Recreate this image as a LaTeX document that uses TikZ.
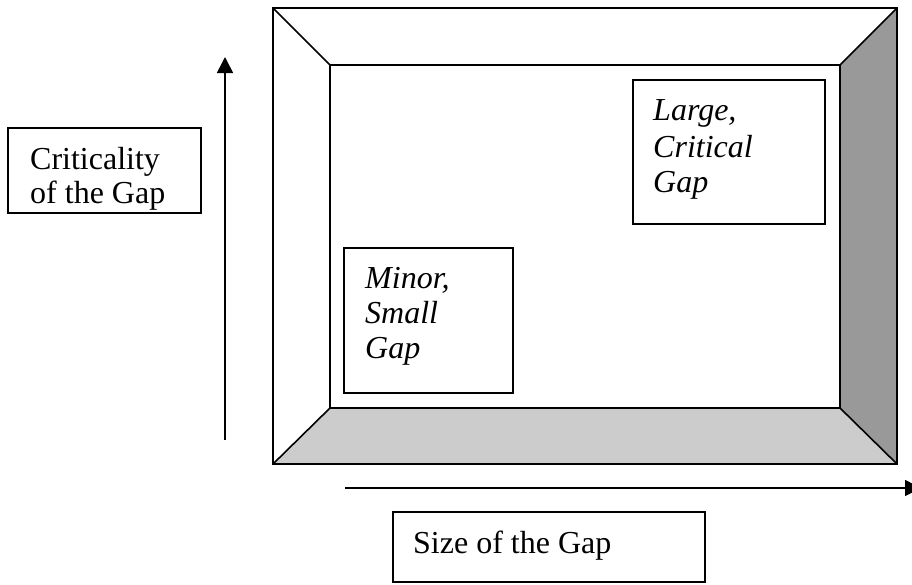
\documentclass[tikz,border=0pt]{standalone}
\usepackage{fontspec}
\setmainfont{Liberation Serif}
\usetikzlibrary{arrows.meta}
\definecolor{darkface}{HTML}{999999}
\definecolor{lightface}{HTML}{CCCCCC}
\tikzset{
  edge/.style={line width=1.6pt, line join=miter},
  label box/.style={draw, line width=1.4pt},
  txt/.style={anchor=base west, inner sep=0pt, font=\fontsize{32}{35}\selectfont},
  axis/.style={line width=1.6pt, -{Triangle[length=16pt, width=16pt]}}
}
\begin{document}
\begin{tikzpicture}[x=1pt, y=-1pt]
\useasboundingbox (0,0) rectangle (912,584);
% frame coordinates
\coordinate (o1) at (273,8);
\coordinate (o2) at (897,8);
\coordinate (o3) at (897,464);
\coordinate (o4) at (273,464);
\coordinate (i1) at (330,65);
\coordinate (i2) at (840,65);
\coordinate (i3) at (840,408);
\coordinate (i4) at (330,408);
% faces
\fill[darkface] (o2) -- (o3) -- (i3) -- (i2) -- cycle;
\fill[lightface] (o4) -- (o3) -- (i3) -- (i4) -- cycle;
\draw[edge] (o1) -- (o2) -- (o3) -- (o4) -- cycle;
\draw[edge] (i1) -- (i2) -- (i3) -- (i4) -- cycle;
\draw[edge] (o1) -- (i1);
\draw[edge] (o2) -- (i2);
\draw[edge] (o3) -- (i3);
\draw[edge] (o4) -- (i4);
% boxes
\draw[label box] (8,128) rectangle (201,213);
\draw[label box] (344,248) rectangle (513,393);
\draw[label box] (633,80) rectangle (825,224);
\draw[label box] (393,512) rectangle (705,582);
% texts
\node[txt] (c1) at (30,169) {Criticality};
\node[txt] (c2) at (30,203) {of the Gap};
\node[txt] (m1) at (365,288) {\itshape Minor,};
\node[txt] (m2) at (365,323) {\itshape Small};
\node[txt] (m3) at (365,358) {\itshape Gap};
\node[txt] (l1) at (653,120) {\itshape Large,};
\node[txt] (l2) at (653,157) {\itshape Critical};
\node[txt] (l3) at (653,192) {\itshape Gap};
\node[txt] (s1) at (413,553) {Size of the Gap};
% axes
\coordinate (va) at (225,440);
\coordinate (vb) at (225,57);
\coordinate (ha) at (345,488);
\coordinate (hb) at (921,488);
\draw[axis] (va) -- (vb);
\draw[axis] (ha) -- (hb);
\end{tikzpicture}
\end{document}
